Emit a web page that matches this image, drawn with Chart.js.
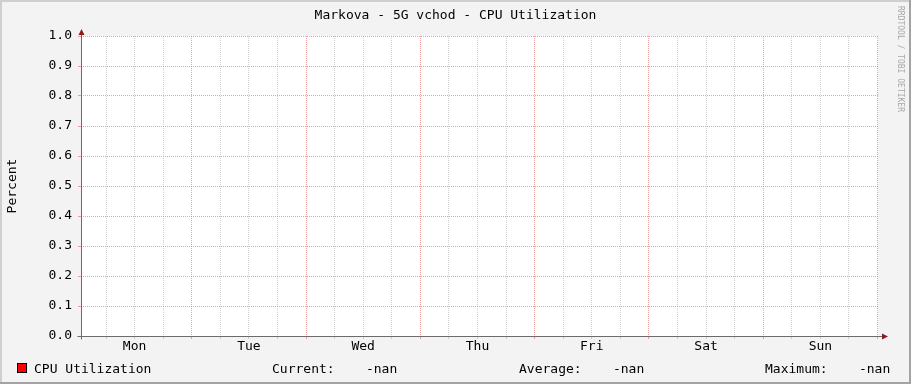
<!DOCTYPE html>
<html>
<head>
<meta charset="utf-8">
<title>Markova - 5G vchod - CPU Utilization</title>
<script src="https://cdn.jsdelivr.net/npm/chart.js@4/dist/chart.umd.min.js"></script>
<style>
html, body { margin: 0; padding: 0; background: #f3f3f3; }
canvas { display: block; }
</style>
</head>
<body>
<canvas id="cpu_chart" width="911" height="384"></canvas>
<script>
// chart data (rrd returned no samples, so the series is empty)
const chartTitle = 'Markova - 5G vchod - CPU Utilization';
const yAxisTitle = 'Percent';
const dayLabels = ['Mon', 'Tue', 'Wed', 'Thu', 'Fri', 'Sat', 'Sun'];
const yTickValues = [0.0, 0.1, 0.2, 0.3, 0.4, 0.5, 0.6, 0.7, 0.8, 0.9, 1.0];
const seriesLabel = 'CPU Utilization';
const cpuValues = [];
const statLabels = ['Current:', 'Average:', 'Maximum:'];
const statValues = ['-nan', '-nan', '-nan'];
const watermark = 'RRDTOOL / TOBI OETIKER';

const FONT = 'DejaVu Sans Mono';
const MAJOR_GRID = 'rgba(235, 110, 110, 0.65)';
const MINOR_GRID = 'rgba(170, 170, 170, 0.55)';
const AXIS_COLOR = '#6b6b6b';
const ARROW_COLOR = '#8b1c1c';

// gridline hours: every 6 hours over the week, major ones at midnight
var xTickHours = [];
dayLabels.forEach(function(day, d) {
	[0, 6, 12, 18].forEach(function(h) { xTickHours.push(d * 24 + h); });
});
xTickHours.push(dayLabels.length * 24);
xTickHours = xTickHours.filter(function(v) { return v > 0.75; });

const rrdDecor = {
	id: 'rrdDecor',
	beforeDraw: function(chart) {
		const ctx = chart.ctx;
		const a = chart.chartArea;
		ctx.save();
		ctx.fillStyle = '#f3f3f3';
		ctx.fillRect(0, 0, chart.width, chart.height);
		// frame
		ctx.fillStyle = '#cfcfcf';
		ctx.fillRect(0, 0, chart.width, 2);
		ctx.fillRect(0, 0, 2, chart.height);
		ctx.fillStyle = '#a3a3a3';
		ctx.fillRect(0, chart.height - 2, chart.width, 2);
		ctx.fillRect(chart.width - 2, 0, 2, chart.height);
		// plot area
		ctx.fillStyle = '#ffffff';
		ctx.fillRect(a.left, a.top, a.right - a.left, a.bottom - a.top);
		ctx.restore();
	},
	afterDraw: function(chart) {
		const ctx = chart.ctx;
		const a = chart.chartArea;
		const x0 = Math.round(a.left) + 0.5;
		const y0 = Math.round(a.bottom) + 0.5;
		ctx.save();

		// axes
		ctx.strokeStyle = AXIS_COLOR;
		ctx.lineWidth = 1;
		ctx.beginPath();
		ctx.moveTo(x0, y0 + 3);
		ctx.lineTo(x0, a.top - 3);
		ctx.moveTo(x0 - 4, y0);
		ctx.lineTo(a.right + 4, y0);
		ctx.stroke();

		// arrows
		ctx.fillStyle = ARROW_COLOR;
		ctx.beginPath();
		ctx.moveTo(x0, a.top - 7);
		ctx.lineTo(x0 - 3, a.top - 1);
		ctx.lineTo(x0 + 3, a.top - 1);
		ctx.closePath();
		ctx.fill();
		ctx.beginPath();
		ctx.moveTo(a.right + 10, y0);
		ctx.lineTo(a.right + 4, y0 - 3);
		ctx.lineTo(a.right + 4, y0 + 3);
		ctx.closePath();
		ctx.fill();

		// title
		ctx.fillStyle = '#000000';
		ctx.font = '13px "' + FONT + '"';
		ctx.textAlign = 'center';
		ctx.textBaseline = 'alphabetic';
		ctx.fillText(chartTitle, chart.width / 2, 19);

		// y axis title
		ctx.save();
		ctx.translate(16, (a.top + a.bottom) / 2);
		ctx.rotate(-Math.PI / 2);
		ctx.fillText(yAxisTitle, 0, 0);
		ctx.restore();

		// watermark
		ctx.save();
		ctx.fillStyle = '#a8a8a8';
		ctx.font = '8px "' + FONT + '"';
		ctx.translate(898, 6);
		ctx.rotate(Math.PI / 2);
		ctx.textAlign = 'left';
		ctx.fillText(watermark, 0, 0);
		ctx.restore();

		// legend
		const ds = chart.data.datasets[0];
		ctx.fillStyle = ds.backgroundColor;
		ctx.fillRect(17, 363, 10, 10);
		ctx.strokeStyle = '#000000';
		ctx.strokeRect(17.5, 363.5, 9, 9);
		ctx.fillStyle = '#000000';
		ctx.textAlign = 'left';
		ctx.fillText(ds.label, 34, 373);
		const statX = [272, 519, 765];
		statLabels.forEach(function(lbl, i) {
			ctx.fillText(lbl + '    ' + statValues[i], statX[i], 373);
		});

		ctx.restore();
	}
};

const ctx = document.getElementById('cpu_chart').getContext('2d');
const cpu_chart = new Chart(ctx, {
	type: 'line',
	data: {
		datasets: [{
			label: seriesLabel,
			data: cpuValues,
			borderColor: '#ff0000',
			backgroundColor: '#ff0000',
			pointRadius: 0
		}]
	},
	options: {
		responsive: false,
		animation: false,
		devicePixelRatio: 1,
		layout: {
			padding: { top: 36, right: 33, left: 0, bottom: 0 }
		},
		plugins: {
			legend: { display: false },
			title: { display: false },
			tooltip: { enabled: false }
		},
		scales: {
			x: {
				type: 'linear',
				min: 0.75,
				max: 168.1,
				afterBuildTicks: function(scale) {
					scale.ticks = xTickHours.map(function(v) { return { value: v }; });
				},
				afterFit: function(scale) { scale.height = 48; },
				grid: {
					color: function(c) {
						return (c.tick && c.tick.value % 24 === 0) ? MAJOR_GRID : MINOR_GRID;
					},
					lineWidth: 1,
					tickLength: 3
				},
				border: { display: false, dash: [1, 1] },
				ticks: {
					autoSkip: false,
					maxRotation: 0,
					padding: 0,
					color: '#000000',
					font: { family: FONT, size: 13 },
					callback: function(value) {
						if (value % 24 === 12) return dayLabels[(value - 12) / 24];
						return '';
					}
				}
			},
			y: {
				min: 0,
				max: 1,
				afterBuildTicks: function(scale) {
					scale.ticks = yTickValues.map(function(v) { return { value: v }; });
				},
				afterFit: function(scale) { scale.width = 81; },
				grid: {
					color: MAJOR_GRID,
					lineWidth: 1,
					tickLength: 3
				},
				border: { display: false, dash: [1, 1] },
				ticks: {
					padding: 6,
					color: '#000000',
					font: { family: FONT, size: 13 },
					callback: function(value) { return value.toFixed(1); }
				}
			}
		}
	},
	plugins: [rrdDecor]
});
</script>
</body>
</html>
